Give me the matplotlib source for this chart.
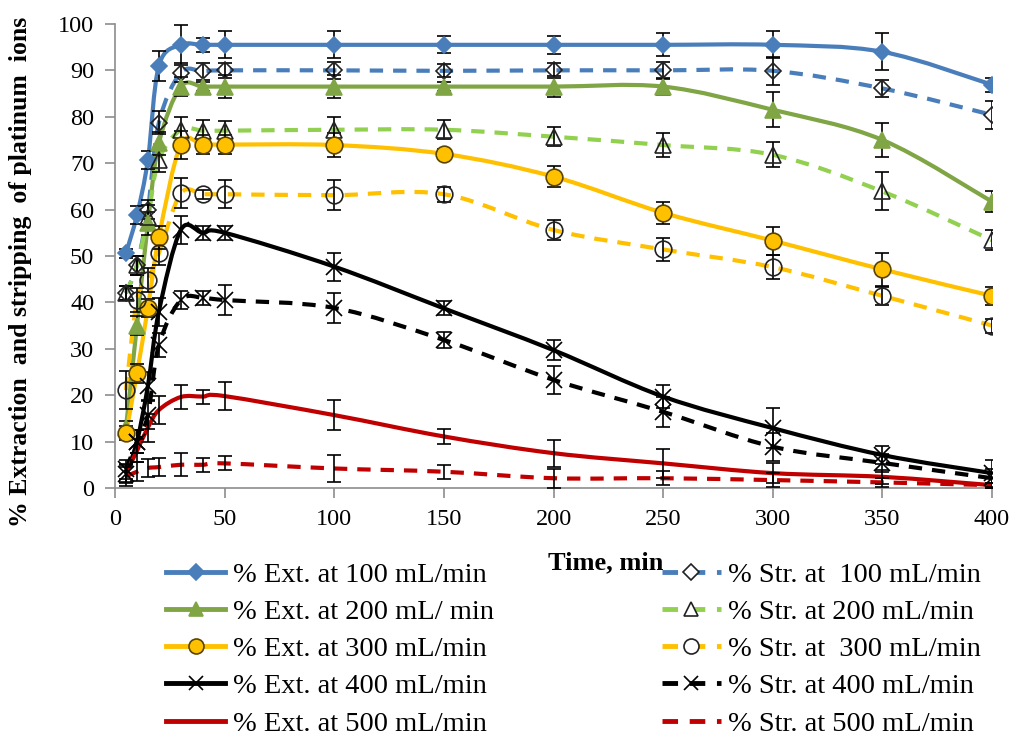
import numpy as np
import matplotlib
matplotlib.use("Agg")
import matplotlib.pyplot as plt
from matplotlib.path import Path
from matplotlib.patches import PathPatch
from matplotlib.lines import Line2D

# Data
time = [5, 10, 15, 20, 30, 40, 50, 100, 150, 200, 250, 300, 350, 400]

ext_100 = [50.6, 58.8, 70.7, 91.0, 95.5, 95.5, 95.5, 95.5, 95.5, 95.5, 95.5, 95.5, 94.0, 86.9]
str_100 = [42.0, 48.0, 60.0, 78.7, 89.5, 89.8, 90.0, 90.0, 89.9, 90.0, 90.0, 89.9, 86.1, 80.4]
ext_200 = [13.0, 35.0, 57.0, 74.3, 86.5, 86.5, 86.5, 86.5, 86.5, 86.5, 86.5, 81.5, 75.0, 61.7]
str_200 = [42.0, 48.0, 58.4, 70.7, 77.2, 77.0, 77.0, 77.2, 77.2, 75.7, 73.9, 71.8, 63.9, 53.4]
ext_300 = [11.8, 24.7, 38.8, 54.0, 74.0, 74.0, 74.0, 73.9, 72.0, 67.1, 59.3, 53.3, 47.1, 41.4]
str_300 = [21.1, 40.5, 44.8, 50.6, 63.5, 63.3, 63.3, 63.1, 63.3, 55.6, 51.4, 47.6, 41.4, 35.0]
ext_400 = [3.0, 10.0, 22.0, 38.0, 55.6, 55.0, 55.0, 47.7, 38.7, 29.7, 19.7, 12.9, 7.1, 3.2]
str_400 = [4.0, 10.0, 15.7, 30.8, 40.5, 41.0, 40.5, 38.8, 31.9, 23.3, 16.4, 8.9, 5.4, 2.1]
ext_500 = [3.2, 8.0, 13.0, 16.8, 19.6, 19.7, 19.8, 15.7, 11.1, 7.5, 5.3, 3.2, 2.4, 0.6]
str_500 = [2.5, 3.5, 4.3, 4.5, 5.0, 5.0, 5.3, 4.2, 3.5, 2.1, 2.1, 1.7, 1.2, 0.6]

err_ext_100 = [1.0, 2.0, 2.0, 3.2, 4.3, 1.5, 2.9, 2.9, 1.8, 2.0, 2.5, 2.9, 4.0, 1.5]
err_str_100 = [1.5, 2.0, 2.0, 2.5, 2.0, 1.8, 1.6, 1.8, 1.4, 1.6, 1.8, 3.0, 1.8, 3.0]
err_ext_200 = [1.5, 2.0, 2.5, 2.5, 2.0, 1.0, 2.5, 2.5, 1.0, 2.3, 1.8, 3.8, 3.7, 2.2]
err_str_200 = [1.5, 2.0, 2.5, 2.5, 2.7, 2.3, 2.0, 2.7, 2.0, 2.0, 2.5, 2.7, 4.1, 2.2]
err_ext_300 = [1.5, 2.0, 2.0, 2.5, 3.0, 2.0, 2.0, 2.5, 1.0, 2.2, 2.4, 3.0, 3.6, 2.0]
err_str_300 = [4.0, 2.5, 2.5, 2.5, 3.2, 1.0, 3.0, 3.2, 1.6, 2.2, 2.5, 2.5, 2.0, 1.5]
err_ext_400 = [2.0, 2.5, 3.0, 3.0, 3.0, 1.5, 1.5, 3.0, 1.5, 2.2, 2.5, 4.3, 2.0, 2.9]
err_str_400 = [2.0, 2.5, 3.0, 2.5, 2.0, 1.5, 3.2, 3.2, 1.8, 3.0, 3.2, 3.0, 2.0, 2.0]
err_ext_500 = [2.0, 2.5, 3.0, 3.0, 2.5, 1.5, 3.0, 3.2, 1.6, 2.9, 3.2, 2.2, 1.5, 0.5]
err_str_500 = [2.0, 2.0, 2.0, 2.0, 2.5, 1.5, 1.5, 3.0, 1.5, 2.0, 1.5, 1.5, 1.0, 0.5]

labels_ext = ["% Ext. at 100 mL/min", "% Ext. at 200 mL/ min", "% Ext. at 300 mL/min",
              "% Ext. at 400 mL/min", "% Ext. at 500 mL/min"]
labels_str = ["% Str. at  100 mL/min", "% Str. at 200 mL/min", "% Str. at  300 mL/min",
              "% Str. at 400 mL/min", "% Str. at 500 mL/min"]

blue = "#4A7EBB"
green = "#7FA544"
light_green = "#92D050"
orange = "#FFC000"
red = "#C00000"

plt.rcParams["font.family"] = ["Liberation Serif", "DejaVu Serif"]


# Excel-like smoothed line (Catmull-Rom as cubic Bezier)
def smooth_path(x, y):
    pts = np.column_stack([x, y]).astype(float)
    n = len(pts)
    verts = [pts[0]]
    codes = [Path.MOVETO]
    for i in range(n - 1):
        p0 = pts[max(i - 1, 0)]
        p1 = pts[i]
        p2 = pts[i + 1]
        p3 = pts[min(i + 2, n - 1)]
        verts += [p1 + (p2 - p0) / 6, p2 - (p3 - p1) / 6, p2]
        codes += [Path.CURVE4] * 3
    return Path(verts, codes)


fig = plt.figure(figsize=(10.16, 7.37), dpi=100)
ax = fig.add_axes([0.1132, 0.3379, 0.8632, 0.6296])

series = [
    # values, errors, line color, dashed, marker, marker face, marker edge, marker size
    (ext_100, err_ext_100, blue, False, "D", blue, blue, 8.5),
    (str_100, err_str_100, blue, True, "D", "none", "#222222", 8.5),
    (ext_200, err_ext_200, green, False, "^", green, green, 11),
    (str_200, err_str_200, light_green, True, "^", "none", "#222222", 11),
    (ext_300, err_ext_300, orange, False, "o", orange, "#5a4500", 12),
    (str_300, err_str_300, orange, True, "o", "none", "#222222", 12),
    (ext_400, err_ext_400, "black", False, "x", "black", "black", 11),
    (str_400, err_str_400, "black", True, "x", "black", "black", 11),
    (ext_500, err_ext_500, red, False, None, None, None, 0),
    (str_500, err_str_500, red, True, None, None, None, 0),
]

handles = []
for vals, errs, col, dashed, mk, mfc, mec, ms in series:
    ls = (0, (3.2, 2.4)) if dashed else "-"
    patch = PathPatch(smooth_path(time, vals), facecolor="none", edgecolor=col,
                      linewidth=3, linestyle=ls, capstyle="butt", zorder=2)
    ax.add_patch(patch)
    ax.errorbar(time, vals, yerr=errs, fmt="none", ecolor="black",
                elinewidth=1.2, capsize=5, capthick=1.2, zorder=3)
    if mk is not None:
        ax.plot(time, vals, linestyle="none", marker=mk, markersize=ms,
                markerfacecolor=mfc, markeredgecolor=mec, markeredgewidth=1.2, zorder=4)
    handles.append(Line2D([], [], color=col, linewidth=3.5, linestyle=ls,
                          marker=mk, markersize=ms * 0.9,
                          markerfacecolor=("white" if mfc == "none" else mfc),
                          markeredgecolor=mec, markeredgewidth=1.2))

ax.set_xlim(0, 400)
ax.set_ylim(0, 100)
ax.set_xticks(np.arange(0, 401, 50))
ax.set_yticks(np.arange(0, 101, 10))
for s in ["top", "right"]:
    ax.spines[s].set_visible(False)
for s in ["left", "bottom"]:
    ax.spines[s].set_color("#8c8c8c")
    ax.spines[s].set_linewidth(1.2)
ax.tick_params(direction="out", length=7, width=1.2, color="#8c8c8c",
               labelsize=17.5, pad=8)

ax.set_ylabel("% Extraction  and stripping  of platinum  ions",
              fontsize=18.5, fontweight="bold")
ax.yaxis.set_label_coords(-0.095, 0.466)
fig.text(0.596, 0.236, "Time, min", fontsize=19, fontweight="bold",
         ha="center", va="center")

order = [handles[i] for i in (0, 2, 4, 6, 8, 1, 3, 5, 7, 9)]
order_labels = labels_ext + labels_str
fig.legend(order, order_labels, loc="upper left", bbox_to_anchor=(0.163, 0.2375),
           ncol=2, frameon=False, fontsize=20.5, handlelength=2.1,
           handletextpad=0.25, labelspacing=0.395, columnspacing=5.9,
           borderpad=0, borderaxespad=0)

fig.savefig("out.png", dpi=100)
